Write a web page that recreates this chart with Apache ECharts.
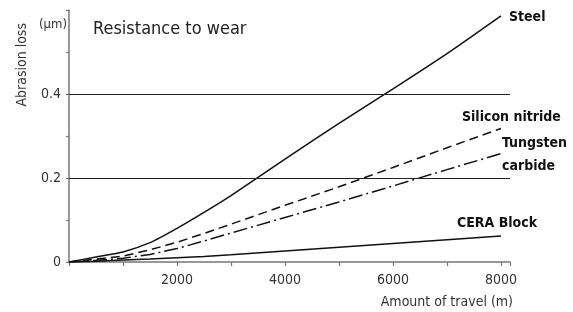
<!DOCTYPE html>
<html>
<head>
<meta charset="utf-8">
<script src="https://cdn.jsdelivr.net/npm/echarts@6/dist/echarts.min.js"></script>
<style>
  html, body { margin: 0; padding: 0; background: #fff; }
  #chart { width: 573px; height: 312px; }
</style>
</head>
<body>
<div id="chart"></div>
<script>
  // travel distance (m) and abrasion loss (µm)
  const travel = [0, 500, 1000, 1500, 2000, 2500, 3000, 4000, 5000, 6000, 7000, 8000];
  const steel = [0, 0.012, 0.024, 0.046, 0.08, 0.118, 0.158, 0.245, 0.33, 0.412, 0.496, 0.586];
  const siliconNitride = [0, 0.007, 0.014, 0.029, 0.047, 0.068, 0.09, 0.135, 0.179, 0.225, 0.272, 0.318];
  const tungstenCarbide = [0, 0.004, 0.009, 0.018, 0.032, 0.05, 0.069, 0.106, 0.143, 0.181, 0.22, 0.258];
  const ceraBlock = [0, 0.002, 0.005, 0.007, 0.01, 0.013, 0.017, 0.026, 0.035, 0.044, 0.053, 0.062];
  const gridValues = [0.2, 0.4];
  const xLabels = [2000, 4000, 6000, 8000];
  const yLabels = [0, 0.2, 0.4];

  const FONT = "'DejaVu Sans Condensed', 'Liberation Sans Narrow', sans-serif";
  const pts = (ys) => travel.map((x, i) => [x, ys[i]]);
  const endLbl = (text, offset) => ({
    show: true, formatter: text, offset, fontFamily: FONT, fontWeight: "bold",
    fontSize: 14, color: "#111", lineHeight: 23,
  });

  const chart = echarts.init(document.getElementById("chart"), null, { renderer: "canvas" });
  chart.setOption({
    animation: false,
    grid: { left: 69, right: 63, top: 10, bottom: 50 },
    xAxis: {
      type: "value", min: 0, max: 8167, interval: 1000,
      axisLine: { lineStyle: { color: "#777", width: 1.5 } },
      axisTick: { length: 4, lineStyle: { color: "#777", width: 1.2 } },
      splitLine: { show: false },
      axisLabel: {
        color: "#333", fontFamily: FONT, fontSize: 14, margin: 11,
        formatter: (v) => (xLabels.includes(v) ? String(v) : ""),
      },
    },
    yAxis: {
      type: "value", min: 0, max: 0.6, interval: 0.1,
      axisLine: { show: true, lineStyle: { color: "#777", width: 1.5 } },
      axisTick: { show: true, length: 3, lineStyle: { color: "#777", width: 1.2 } },
      splitLine: { show: false },
      axisLabel: {
        color: "#333", fontFamily: FONT, fontSize: 14, margin: 8,
        formatter: (v) => (yLabels.some((y) => Math.abs(y - v) < 1e-9) ? String(v) : ""),
      },
    },
    graphic: [
      { type: "text", left: 93, top: 20, style: { text: "Resistance to wear", font: "18px " + FONT, fill: "#222" } },
      { type: "text", left: 39, top: 18, style: { text: "(µm)", font: "13px " + FONT, fill: "#333" } },
      { type: "text", left: 15, top: 23, rotation: Math.PI / 2, style: { text: "Abrasion loss", font: "14px " + FONT, fill: "#333" } },
      { type: "text", right: 60, top: 295, style: { text: "Amount of travel (m)", font: "14px " + FONT, fill: "#333", textAlign: "right" } },
    ],
    series: [
      {
        name: "Steel", type: "line", data: pts(steel), symbol: "none", smooth: 0.2,
        lineStyle: { color: "#111", width: 1.5 },
        endLabel: endLbl("Steel", [0, 1]),
        markLine: {
          silent: true, symbol: "none", label: { show: false },
          lineStyle: { color: "#222", width: 1, type: "solid" },
          data: gridValues.map((v) => ({ yAxis: v })),
        },
      },
      {
        name: "Silicon nitride", type: "line", data: pts(siliconNitride), symbol: "none",
        lineStyle: { color: "#111", width: 1.5, type: [9, 5] },
        endLabel: endLbl("Silicon nitride", [-47, -11]),
      },
      {
        name: "Tungsten carbide", type: "line", data: pts(tungstenCarbide), symbol: "none",
        lineStyle: { color: "#111", width: 1.5, type: [14, 4, 2, 4] },
        endLabel: endLbl("Tungsten\ncarbide", [-7, 1]),
      },
      {
        name: "CERA Block", type: "line", data: pts(ceraBlock), symbol: "none",
        lineStyle: { color: "#111", width: 1.5 },
        endLabel: endLbl("CERA Block", [-52, -13]),
      },
    ],
  });
</script>
</body>
</html>
